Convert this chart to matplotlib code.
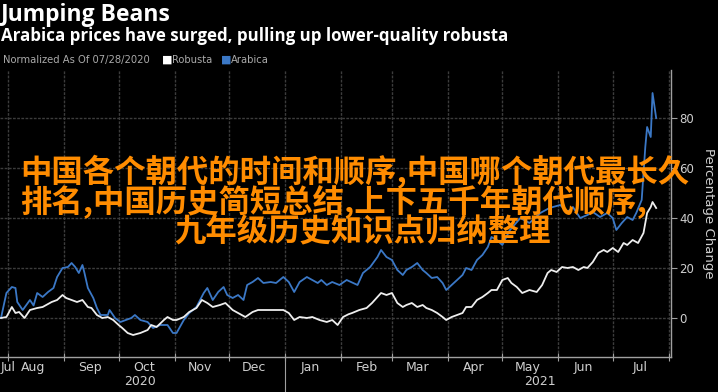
import numpy as np
import matplotlib
matplotlib.use("Agg")
import matplotlib.pyplot as plt
import matplotlib.dates as mdates
import matplotlib.transforms as mtransforms

# ---- data (percent change since 07/28/2020) ----
start = np.datetime64("2020-07-28")

arabica_days = [0, 3, 6, 8, 9, 12, 16, 18, 20, 23, 26, 29, 31, 34, 37, 39, 41, 43, 45, 46,
                48, 51, 53, 55, 59, 60, 63, 66, 69, 72, 74, 77, 81, 84, 88, 92, 95, 97, 101,
                104, 108, 112, 114, 117, 120, 123, 125, 128, 131, 134, 136, 139, 142, 145,
                149, 152, 156, 159, 162, 165, 169, 172, 175, 177, 180, 183, 187, 191, 197,
                200, 204, 208, 210, 213, 216, 219, 222, 224, 227, 230, 233, 235, 238, 241,
                244, 246, 249, 252, 255, 257, 260, 263, 266, 269, 271, 274, 277, 281, 287,
                292, 298, 303, 309, 313, 316, 320, 324, 327, 331, 335, 338, 340, 343, 346,
                349, 351, 354, 356, 357, 359, 360, 362]
arabica_pct = [0, 10, 12.4, 12, 6.4, 3.2, 7.2, 5, 10, 8.4, 10.4, 12, 16.4, 20, 20.4, 22, 20.4,
               18, 21.2, 18.4, 12, 8, 4, 1.2, 1.2, 3.2, 0, -1.6, -0.8, 0, 1.2, -0.8, -1.6, -4,
               -2.8, -2.8, -6, -6, -0.8, 2, 4.4, 10, 12, 7.2, 10.4, 12.4, 9.2, 8, 9.2, 7.2,
               13.2, 14.4, 16, 14, 14.4, 14, 16.4, 14.4, 10.4, 14.4, 16.4, 15.2, 14, 15.2,
               13.2, 14.4, 13.2, 15.2, 13.2, 18, 20.4, 24.4, 27.2, 24.4, 23.2, 19.2, 17.2,
               19.2, 20.4, 22, 19.2, 18, 16, 16.4, 14, 11.2, 13.2, 15.2, 17.2, 20, 19.2, 23.2,
               25.2, 28.4, 32.4, 31.2, 29.2, 35, 40, 38, 42, 44, 45.2, 42.4, 44.4, 40, 41.2,
               42.4, 40.4, 42, 40, 35.2, 38, 40.4, 39.2, 42, 47.2, 68.4, 76.4, 72.4, 90, 80]

robusta_days = [0, 3, 6, 8, 10, 13, 16, 20, 23, 25, 28, 31, 34, 36, 39, 42, 45, 48, 50, 53,
                56, 59, 62, 65, 67, 70, 73, 77, 81, 83, 86, 90, 92, 95, 97, 101, 104, 108,
                111, 114, 117, 121, 124, 128, 131, 135, 139, 142, 147, 151, 156, 159, 162,
                165, 169, 172, 176, 180, 183, 186, 189, 192, 194, 198, 202, 205, 208, 210,
                213, 216, 219, 222, 224, 227, 230, 233, 235, 238, 241, 244, 246, 249, 252,
                255, 257, 260, 263, 266, 269, 271, 274, 277, 280, 282, 285, 288, 292, 296,
                299, 302, 304, 307, 310, 313, 316, 319, 322, 324, 327, 330, 333, 335, 338,
                341, 344, 346, 349, 352, 355, 357, 359, 360, 362]
robusta_pct = [0, 0.4, 4.4, 2, 2.4, 0, 3.2, 4, 4.4, 5.2, 6.4, 7.2, 9.2, 8, 7.2, 6.4, 7.2, 4.4,
               4, 1.2, 0, 0.4, -0.8, -2.8, -4, -6, -6.8, -6, -4.8, -2.8, -3.6, -0.8, 0.4, -0.8,
               -0.8, 0.4, 2.4, 4, 7.2, 6, 4.4, 5.2, 6, 3.2, 2, 0.4, 2.4, 3.2, 3.2, 3.2, 3.2, 2,
               -0.8, 0.4, 0, 0.4, -0.8, -1.6, -0.8, -2.8, 0.4, 1.5, 2, 3.2, 4, 6, 8.4, 10, 9.2,
               10, 6, 4.4, 5.2, 6, 4.4, 5.2, 4, 3.2, 2, 0.4, -0.8, 0.4, 1.2, 2, 4.4, 4.4, 7.2,
               8.4, 10, 11.2, 11.2, 15.2, 16, 14, 12.4, 10, 11.2, 10.4, 13.2, 18, 19.2, 18.4,
               20.4, 20, 20.4, 19.2, 20.4, 20, 22.4, 26, 27.2, 26.4, 28, 26.4, 30, 29.2, 31.2,
               30, 34, 42, 44.4, 46.4, 44]

month_names = ["Jul", "Aug", "Sep", "Oct", "Nov", "Dec", "Jan", "Feb", "Mar", "Apr",
               "May", "Jun", "Jul"]
month_label_dates = ["2020-07-31T20", "2020-08-15", "2020-09-15", "2020-10-15", "2020-11-15",
                     "2020-12-15", "2021-01-15", "2021-02-15", "2021-03-15", "2021-04-15",
                     "2021-05-15", "2021-06-15", "2021-07-16"]
month_starts = ["2020-08-01", "2020-09-01", "2020-10-01", "2020-11-01", "2020-12-01",
                "2021-01-01", "2021-02-01", "2021-03-01", "2021-04-01", "2021-05-01",
                "2021-06-01", "2021-07-01", "2021-08-01"]
year_labels = ["2020", "2021"]
year_label_dates = ["2020-10-13", "2021-05-22"]
y_ticks = [0, 20, 40, 60, 80]

title = "Jumping Beans"
subtitle = "Arabica prices have surged, pulling up lower-quality robusta"
overlay = ["中国各个朝代的时间和顺序,中国哪个朝代最长久",
           "排名,中国历史简短总结,上下五千年朝代顺序,",
           "九年级历史知识点归纳整理"]

# ---- styling ----
W, H = 718, 392
BLUE = "#3b78c6"
WHITE = "#eeeeee"
GRID = "#3c3c3c"
AXC = "#a0a0a0"
TXT = "#cfcfcf"
ORANGE = "#ff8c00"

fig = plt.figure(figsize=(W / 100, H / 100), dpi=100, facecolor="black")
ax = fig.add_axes([0, 35 / H, 671 / W, 287 / H], facecolor="black")

a_dates = start + np.array(arabica_days)
r_dates = start + np.array(robusta_days)
ax.plot(a_dates, arabica_pct, color=BLUE, lw=1.3, zorder=3)
ax.plot(r_dates, robusta_pct, color=WHITE, lw=1.3, zorder=4)

x0 = mdates.date2num(start)
ax.set_xlim(x0 - 0.55, x0 + 370.2)
ax.set_ylim(-15.6, 99.2)

# x axis: month boundaries as ticks/grid, month names in between
ax.set_xticks([mdates.date2num(np.datetime64(d)) for d in month_starts])
ax.set_xticklabels([])
ax.set_xticks([mdates.date2num(np.datetime64(d)) for d in month_label_dates], minor=True)
ax.set_xticklabels(month_names, minor=True)
ax.tick_params(axis="x", which="major", direction="inout", length=6, color=AXC)
ax.tick_params(axis="x", which="minor", length=0, pad=3, labelsize=9, labelcolor=TXT)

# year separator and year labels
trans = mtransforms.blended_transform_factory(ax.transData, ax.transAxes)
jan1 = mdates.date2num(np.datetime64("2021-01-01"))
ax.plot([jan1, jan1], [0, -0.13], transform=trans, color=AXC, lw=0.8, clip_on=False)
for lab, d in zip(year_labels, year_label_dates):
    ax.text(mdates.date2num(np.datetime64(d)), -0.087, lab, transform=trans,
            ha="center", va="center", fontsize=9, color=TXT)

# y axis on the right
ax.yaxis.tick_right()
ax.set_yticks(y_ticks)
ax.tick_params(axis="y", direction="out", length=4, pad=2, color=AXC,
               labelsize=8.5, labelcolor=TXT)
ax.yaxis.set_label_position("right")
ax.set_ylabel("Percentage Change", rotation=270, labelpad=15, fontsize=9.5, color=TXT)

ax.grid(True, which="major", color=GRID, lw=1, linestyle=(0, (2, 1)))
for s in ["top", "left"]:
    ax.spines[s].set_visible(False)
for s in ["right", "bottom"]:
    ax.spines[s].set_color(AXC)
    ax.spines[s].set_linewidth(1)

# header
def px(x, y):
    return x / W, 1 - y / H

fig.text(*px(1, 15), title, fontsize=16.5, fontweight="bold", color="white",
         family="Open Sans", va="center")
fig.text(*px(1, 36), subtitle, fontsize=12.2, fontweight="bold", color="white",
         family="Open Sans", va="center")
fig.text(*px(3, 60), "Normalized As Of 07/28/2020", fontsize=7.2, color="#aaaaaa", va="center")
fig.text(*px(162, 60), "■", fontsize=8, color="white", va="center")
fig.text(*px(172, 60), "Robusta", fontsize=7.2, color="#aaaaaa", va="center")
fig.text(*px(221, 60), "■", fontsize=8, color=BLUE, va="center")
fig.text(*px(231, 60), "Arabica", fontsize=7.2, color="#aaaaaa", va="center")

# orange overlay text
cjk = ["Noto Sans CJK SC", "DejaVu Sans"]
fig.text(*px(20, 172), overlay[0], fontsize=22.6, color=ORANGE, family=cjk,
         fontweight="bold", va="center", ha="left")
fig.text(*px(20, 202), overlay[1], fontsize=22.6, color=ORANGE, family=cjk,
         fontweight="bold", va="center", ha="left")
fig.text(*px(363, 232), overlay[2], fontsize=22.6, color=ORANGE, family=cjk,
         fontweight="bold", va="center", ha="center")

fig.savefig("out.png", dpi=100, facecolor="black")
